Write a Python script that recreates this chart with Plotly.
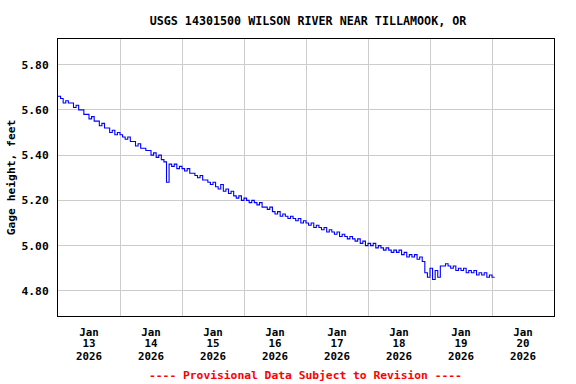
import plotly.graph_objects as go
import pandas as pd

# Hourly gage height readings (feet), starting 2026-01-13 00:00
gage_height = [
    5.66, 5.65, 5.63, 5.64, 5.63, 5.63, 5.61, 5.62, 5.60, 5.60,
    5.58, 5.58, 5.56, 5.57, 5.55, 5.55, 5.53, 5.54, 5.52, 5.52,
    5.50, 5.51, 5.49, 5.50, 5.49, 5.48, 5.47, 5.48, 5.46, 5.46,
    5.44, 5.45, 5.43, 5.43, 5.42, 5.42, 5.40, 5.41, 5.39, 5.40,
    5.38, 5.37, 5.28, 5.36, 5.35, 5.36, 5.34, 5.35, 5.34, 5.33,
    5.34, 5.32, 5.32, 5.31, 5.30, 5.31, 5.29, 5.29, 5.28, 5.27,
    5.28, 5.26, 5.25, 5.27, 5.24, 5.25, 5.23, 5.24, 5.22, 5.21,
    5.22, 5.20, 5.21, 5.20, 5.19, 5.20, 5.19, 5.18, 5.19, 5.17,
    5.17, 5.16, 5.17, 5.15, 5.14, 5.15, 5.13, 5.14, 5.13, 5.12,
    5.13, 5.12, 5.11, 5.12, 5.10, 5.11, 5.10, 5.09, 5.10, 5.08,
    5.09, 5.08, 5.07, 5.08, 5.06, 5.07, 5.06, 5.05, 5.06, 5.04,
    5.05, 5.04, 5.03, 5.04, 5.03, 5.02, 5.03, 5.01, 5.02, 5.00,
    5.01, 5.00, 5.01, 4.99, 5.00, 4.99, 4.98, 4.99, 4.98, 4.97,
    4.98, 4.97, 4.98, 4.96, 4.97, 4.95, 4.96, 4.95, 4.96, 4.94,
    4.95, 4.93, 4.88, 4.86, 4.90, 4.85, 4.89, 4.86, 4.91, 4.91,
    4.92, 4.91, 4.90, 4.91, 4.89, 4.90, 4.89, 4.90, 4.88, 4.89,
    4.88, 4.89, 4.87, 4.88, 4.87, 4.88, 4.86, 4.87, 4.86, 4.86,
]
start_time = "2026-01-13 00:00"
times = pd.date_range(start_time, periods=len(gage_height), freq="h")

tick_times = pd.date_range("2026-01-13 12:00", periods=8, freq="D")
tick_months = ["Jan"] * 8
tick_days = ["13", "14", "15", "16", "17", "18", "19", "20"]
tick_years = ["2026"] * 8
y_ticks = [4.80, 5.00, 5.20, 5.40, 5.60, 5.80]
y_labels = ["4.80", "5.00", "5.20", "5.40", "5.60", "5.80"]

x_range = ["2026-01-13 00:00", "2026-01-21 00:00"]
FONT = "DejaVu Sans Mono"
tfont = dict(family=FONT, size=11.3, color="black", weight="bold")
xfont = dict(family=FONT, size=10.8, color="black", weight="bold")

fig = go.Figure()
fig.add_trace(go.Scatter(x=times, y=gage_height, mode="lines",
                         line=dict(color="#0000ff", width=1.1, shape="hv"),
                         hoverinfo="skip"))
# invisible helpers so the overlay axes get drawn
fig.add_trace(go.Scatter(x=[], y=[], xaxis="x2", showlegend=False))
fig.add_trace(go.Scatter(x=[], y=[], xaxis="x3", showlegend=False))

common_x = dict(type="date", range=x_range, tickmode="array", tickvals=tick_times,
                ticks="", tickfont=xfont, zeroline=False, showgrid=False,
                automargin=False)

fig.update_layout(
    width=576, height=384,
    margin=dict(l=58, r=22, t=39, b=68),
    plot_bgcolor="white", paper_bgcolor="white",
    showlegend=False,
    font=tfont,
    title=dict(text="USGS 14301500 WILSON RIVER NEAR TILLAMOOK, OR",
               x=308/576, xanchor="center", yref="container", y=1-20.5/384,
               yanchor="middle", font=dict(tfont, size=11.7), automargin=False),
    xaxis=dict(**common_x, ticktext=tick_months, showline=True, mirror=True,
               linecolor="black", linewidth=1, ticklabelstandoff=6,
               minor=dict(showgrid=True, gridcolor="#cccccc", gridwidth=1,
                          tick0="2026-01-13", dtick=86400000, ticks="")),
    xaxis2=dict(**common_x, ticktext=tick_days, overlaying="x", anchor="y",
                side="bottom", showline=False, ticklabelstandoff=19),
    xaxis3=dict(**common_x, ticktext=tick_years, overlaying="x", anchor="y",
                side="bottom", showline=False, ticklabelstandoff=32),
    yaxis=dict(range=[4.689, 5.913], tickmode="array", tickvals=y_ticks,
               ticktext=y_labels, ticks="", tickfont=tfont, showgrid=True,
               gridcolor="#cccccc", gridwidth=1, zeroline=False, showline=True,
               mirror=True, linecolor="black", linewidth=1, ticklabelstandoff=6,
               automargin=False,
               title=dict(text="Gage height, feet", font=tfont, standoff=3)),
    annotations=[dict(text="---- Provisional Data Subject to Revision ----",
                      xref="paper", yref="paper", x=0.498, y=-59/277,
                      xanchor="center", yanchor="middle", showarrow=False,
                      font=dict(family=FONT, size=11.3, color="#ff0000", weight="bold"))],
)

fig.write_html("out.html", config={"displayModeBar": False},
               post_script="document.body.style.margin='0';document.body.style.overflow='hidden';")
